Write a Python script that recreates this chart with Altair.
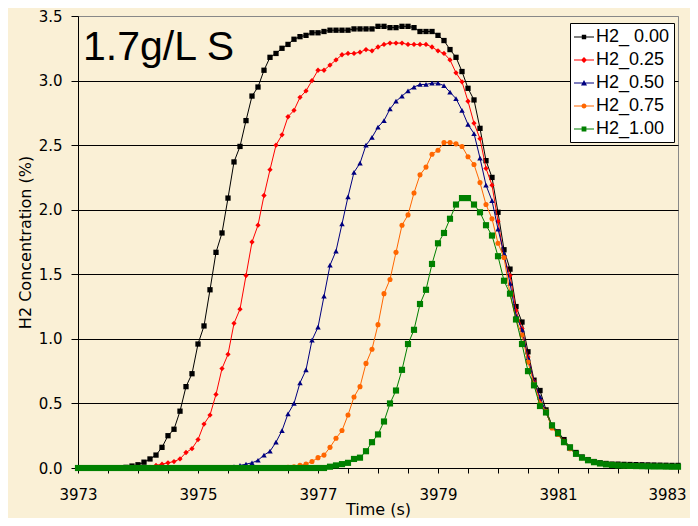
import altair as alt
import pandas as pd

# time axis (s): samples every 0.1 s from 3973.0 to 3983.0
t_start = 3973.0
t_step = 0.1

series_names = ["H2_ 0.00", "H2_0.25", "H2_0.50", "H2_0.75", "H2_1.00"]
series_colors = ["#000000", "#FF0000", "#000080", "#FF6600", "#008000"]

h2_000 = [0, 0, 0, 0, 0, 0, 0, 0, 0.005, 0.015,
          0.025, 0.045, 0.07, 0.10, 0.16, 0.25, 0.30, 0.44, 0.63, 0.73,
          0.96, 1.10, 1.38, 1.67, 1.82, 2.09, 2.37, 2.49, 2.69, 2.88,
          2.95, 3.08, 3.18, 3.21, 3.25, 3.28, 3.32, 3.34, 3.35, 3.37,
          3.37, 3.38, 3.39, 3.39, 3.39, 3.39, 3.40, 3.40, 3.40, 3.40,
          3.42, 3.42, 3.41, 3.41, 3.42, 3.42, 3.41, 3.38, 3.38, 3.38,
          3.35, 3.31, 3.24, 3.18, 3.07, 2.94, 2.85, 2.63, 2.38, 2.25,
          1.98, 1.69, 1.54, 1.25, 1.13, 0.90, 0.68, 0.60, 0.45, 0.33,
          0.28, 0.22, 0.16, 0.12, 0.085, 0.065, 0.05, 0.04, 0.035, 0.03,
          0.03, 0.028, 0.027, 0.026, 0.025, 0.024, 0.023, 0.022, 0.021, 0.02,
          0.02]

h2_025 = [0, 0, 0, 0, 0, 0, 0, 0, 0, 0,
          0, 0, 0.005, 0.02, 0.03, 0.04, 0.05, 0.07, 0.12, 0.15,
          0.22, 0.34, 0.41, 0.57, 0.77, 0.88, 1.12, 1.23, 1.49, 1.75,
          1.88, 2.11, 2.31, 2.50, 2.58, 2.72, 2.77, 2.87, 2.92, 3.00,
          3.08, 3.08, 3.12, 3.16, 3.20, 3.21, 3.21, 3.22, 3.24, 3.23,
          3.26, 3.28, 3.29, 3.29, 3.29, 3.28, 3.28, 3.28, 3.28, 3.26,
          3.23, 3.21, 3.16, 3.06, 2.99, 2.84, 2.67, 2.55, 2.32, 2.19,
          1.91, 1.63, 1.49, 1.22, 1.08, 0.86, 0.67, 0.53, 0.43, 0.32,
          0.26, 0.21, 0.15, 0.11, 0.08, 0.06, 0.045, 0.035, 0.03, 0.025,
          0.022, 0.02, 0.02, 0.018, 0.017, 0.016, 0.015, 0.015, 0.014, 0.013,
          0.012]

h2_050 = [0, 0, 0, 0, 0, 0, 0, 0, 0, 0,
          0, 0, 0, 0, 0, 0, 0, 0, 0, 0,
          0, 0, 0, 0, 0, 0, 0.01, 0.02, 0.03, 0.04,
          0.06, 0.10, 0.13, 0.20, 0.29, 0.42, 0.50, 0.66, 0.76, 0.99,
          1.09, 1.33, 1.57, 1.68, 1.89, 2.10, 2.29, 2.36, 2.50, 2.56,
          2.64, 2.69, 2.78, 2.84, 2.88, 2.92, 2.95, 2.97, 2.97, 2.98,
          2.98, 2.96, 2.91, 2.86, 2.77, 2.66, 2.59, 2.40, 2.19, 2.07,
          1.85, 1.66, 1.43, 1.18, 1.07, 0.85, 0.67, 0.55, 0.43, 0.32,
          0.26, 0.20, 0.15, 0.11, 0.08, 0.06, 0.045, 0.035, 0.028, 0.024,
          0.02, 0.018, 0.016, 0.015, 0.014, 0.013, 0.012, 0.012, 0.011, 0.01,
          0.01]

h2_075 = [0, 0, 0, 0, 0, 0, 0, 0, 0, 0,
          0, 0, 0, 0, 0, 0, 0, 0, 0, 0,
          0, 0, 0, 0, 0, 0, 0, 0, 0, 0,
          0, 0, 0, 0, 0, 0.005, 0.01, 0.02, 0.03, 0.05,
          0.08, 0.10, 0.16, 0.23, 0.29, 0.41, 0.55, 0.63, 0.81, 0.92,
          1.11, 1.35, 1.46, 1.67, 1.88, 1.96, 2.13, 2.27, 2.33, 2.43,
          2.46, 2.52, 2.52, 2.51, 2.49, 2.41, 2.35, 2.21, 2.04, 1.93,
          1.74, 1.63, 1.35, 1.15, 1.03, 0.82, 0.65, 0.50, 0.44, 0.31,
          0.26, 0.20, 0.15, 0.11, 0.08, 0.06, 0.045, 0.035, 0.028, 0.024,
          0.02, 0.018, 0.016, 0.015, 0.014, 0.013, 0.012, 0.012, 0.011, 0.01,
          0.01]

h2_100 = [0, 0, 0, 0, 0, 0, 0, 0, 0, 0,
          0, 0, 0, 0, 0, 0, 0, 0, 0, 0,
          0, 0, 0, 0, 0, 0, 0, 0, 0, 0,
          0, 0, 0, 0, 0, 0, 0, 0, 0, 0,
          0, 0, 0.01, 0.02, 0.03, 0.04, 0.07, 0.08, 0.13, 0.20,
          0.26, 0.36, 0.50, 0.60, 0.76, 0.96, 1.07, 1.27, 1.38, 1.58,
          1.74, 1.82, 1.93, 2.04, 2.09, 2.09, 2.04, 1.98, 1.88, 1.80,
          1.64, 1.45, 1.35, 1.15, 0.96, 0.75, 0.64, 0.48, 0.43, 0.33,
          0.27, 0.20, 0.16, 0.11, 0.08, 0.06, 0.045, 0.035, 0.028, 0.024,
          0.02, 0.018, 0.016, 0.015, 0.014, 0.013, 0.012, 0.012, 0.011, 0.01,
          0.01]

x_tick_values = [3973, 3973.5, 3974, 3974.5, 3975, 3975.5, 3976, 3976.5, 3977, 3977.5,
                 3978, 3978.5, 3979, 3979.5, 3980, 3980.5, 3981, 3981.5, 3982, 3982.5, 3983]
y_tick_values = [0, 0.5, 1.0, 1.5, 2.0, 2.5, 3.0, 3.5]

all_series = [h2_000, h2_025, h2_050, h2_075, h2_100]
rows = []
for name, vals in zip(series_names, all_series):
    for i, v in enumerate(vals):
        rows.append({"t": round(t_start + i * t_step, 1), "v": v, "series": name})
df = pd.DataFrame(rows)

marker_shapes = ["square", "diamond", "triangle-up", "circle", "square"]
marker_sizes = [28, 28, 30, 26, 38]

legend_paths = [
    "M-1,-0.05H1V0.05H-1Z M-0.22,-0.22H0.22V0.22H-0.22Z",
    "M-1,-0.05H1V0.05H-1Z M0,-0.3L0.3,0L0,0.3L-0.3,0Z",
    "M-1,-0.05H1V0.05H-1Z M0,-0.3L0.3,0.25L-0.3,0.25Z",
    "M-1,-0.05H1V0.05H-1Z M-0.25,0A0.25,0.25 0 1,1 0.25,0A0.25,0.25 0 1,1 -0.25,0Z",
    "M-1,-0.05H1V0.05H-1Z M-0.24,-0.24H0.24V0.24H-0.24Z",
]

X = alt.X(
    "t:Q",
    scale=alt.Scale(domain=[3973, 3983], nice=False, zero=False),
    axis=alt.Axis(
        values=x_tick_values,
        labelExpr="(datum.value - 3973) % 2 == 0 ? format(datum.value, 'd') : ''",
        labelOverlap=False,
        labelFlush=False,
        labelOffset={"condition": {"test": "datum.value >= 3983", "value": -11}, "value": 0},
        tickSize=5,
        labelPadding=14,
        grid=False,
        title="Time (s)",
        titleY=46,
        titleBaseline="alphabetic",
    ),
)
Y = alt.Y(
    "v:Q",
    scale=alt.Scale(domain=[0, 3.5], nice=False),
    axis=alt.Axis(
        values=y_tick_values,
        format=".1f",
        grid=True,
        gridColor={"condition": {"test": "datum.value >= 3.4", "value": "#888888"}, "value": "#000000"},
        tickSize=7,
        labelPadding=9,
        title="H2 Concentration (%)",
        titleX=-53,
        titleY=226,
        titleAngle=270,
        titleAlign="center",
        titleBaseline="middle",
    ),
)

base = alt.Chart(df)
layers = []
for name, col, shp, sz in zip(series_names, series_colors, marker_shapes, marker_sizes):
    sub = base.transform_filter(alt.datum.series == name)
    layers.append(sub.mark_line(color=col, strokeWidth=1).encode(x=X, y=Y))
    layers.append(
        sub.mark_point(shape=shp, filled=True, size=sz, color=col, opacity=1, strokeWidth=0).encode(x=X, y=Y)
    )

leg = alt.Legend(
    title=None,
    orient="none",
    legendX=492,
    legendY=7,
    fillColor="white",
    strokeColor="black",
    padding=4,
    rowPadding=4,
    labelFont="Liberation Sans",
    labelFontSize=18,
    labelColor="black",
    labelOffset=2,
    symbolSize=400,
    symbolStrokeWidth=0,
)
legend_layer = (
    base.transform_filter("datum.t < 0")
    .mark_point(filled=True, size=400, opacity=1)
    .encode(
        x=X,
        y=Y,
        color=alt.Color("series:N", scale=alt.Scale(domain=series_names, range=series_colors), legend=leg),
        shape=alt.Shape("series:N", scale=alt.Scale(domain=series_names, range=legend_paths), legend=leg),
    )
)
layers.append(legend_layer)

label_layer = (
    alt.Chart(pd.DataFrame({"txt": ["1.7g/L S"]}))
    .mark_text(font="Liberation Sans", fontSize=41, align="left", baseline="alphabetic", color="black")
    .encode(x=alt.value(5), y=alt.value(44), text="txt:N")
)
layers.append(label_layer)

chart = (
    alt.layer(*layers)
    .properties(
        width=600,
        height=452,
        background="#FAF0D6",
        padding={"left": 70, "top": 8, "right": 12, "bottom": 50},
        autosize=alt.AutoSizeParams(type="none"),
    )
    .configure_view(stroke="#888888", strokeWidth=1)
    .configure_axis(
        labelFont="DejaVu Sans",
        labelFontSize=15,
        labelColor="black",
        titleFont="DejaVu Sans",
        titleFontSize=16,
        titleFontWeight="normal",
        titleColor="black",
        domainColor="black",
        tickColor="black",
        gridWidth=1,
    )
)

chart.save("out.html", embed_options={"renderer": "svg", "actions": False})
